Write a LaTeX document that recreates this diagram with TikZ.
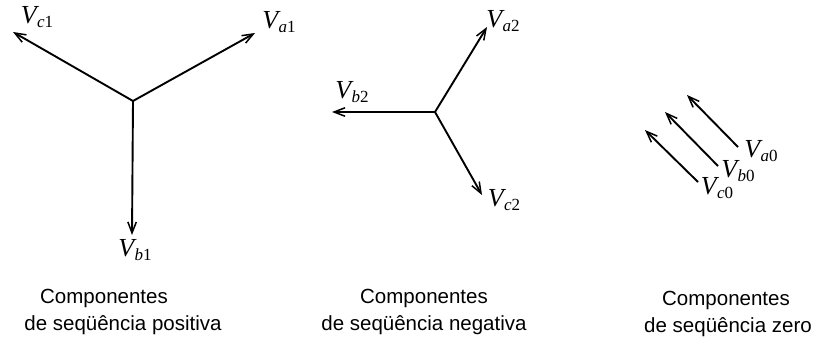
\documentclass[tikz,border=0pt]{standalone}
\usepackage{fontspec}
\setsansfont{Liberation Sans}
\newfontfamily\lblfont{Liberation Serif}
\usetikzlibrary{arrows.meta}
\newcommand{\phv}[2]{{\lblfont\itshape V\kern0.5pt\raisebox{-4.5pt}{\fontsize{17}{17}\selectfont #1\upshape #2}}}
\tikzset{
  phasor/.style={line width=1.9pt,-{Straight Barb[length=11pt,width=8.5pt,line width=1.5pt]}},
  vlabel/.style={inner sep=0pt,font=\fontsize{26}{28}\selectfont},
  caption/.style={inner sep=0pt,font=\sffamily\fontsize{20.5}{24}\selectfont}
}
\begin{document}
\begin{tikzpicture}[x=1pt,y=-1pt]
\useasboundingbox (0,0) rectangle (832,346);
% positive sequence
\coordinate (O1) at (133,101);
\coordinate (a1) at (255,33);
\coordinate (b1) at (132,235);
\coordinate (c1) at (13,32);
\draw[phasor] (O1) -- (a1);
\draw[phasor] (O1) -- (b1);
\draw[phasor] (O1) -- (c1);
\node[vlabel] (la1) at (279,22) {\phv{a}{1}};
\node[vlabel] (lb1) at (135,250) {\phv{b}{1}};
\node[vlabel] (lc1) at (37,17) {\phv{c}{1}};
% negative sequence
\coordinate (O2) at (435,112);
\coordinate (a2) at (487,27);
\coordinate (b2) at (332,112);
\coordinate (c2) at (482,195);
\draw[phasor] (O2) -- (a2);
\draw[phasor] (O2) -- (b2);
\draw[phasor] (O2) -- (c2);
\node[vlabel] (la2) at (503,21) {\phv{a}{2}};
\node[vlabel] (lb2) at (352,92) {\phv{b}{2}};
\node[vlabel] (lc2) at (504,200) {\phv{c}{2}};
% zero sequence
\coordinate (ta0) at (738,147);
\coordinate (ha0) at (687,95);
\coordinate (tb0) at (718,166);
\coordinate (hb0) at (665,112);
\coordinate (tc0) at (698,182);
\coordinate (hc0) at (645,130);
\draw[phasor] (ta0) -- (ha0);
\draw[phasor] (tb0) -- (hb0);
\draw[phasor] (tc0) -- (hc0);
\node[vlabel] (la0) at (761,151) {\phv{a}{0}};
\node[vlabel] (lb0) at (738,171) {\phv{b}{0}};
\node[vlabel] (lc0) at (717,188) {\phv{c}{0}};
% captions
\node[caption] (p1) at (104,298) {Componentes};
\node[caption] (p2) at (123,325) {de seqüência positiva};
\node[caption] (n1) at (424,298) {Componentes};
\node[caption] (n2) at (424,325) {de seqüência negativa};
\node[caption] (z1) at (726,300) {Componentes};
\node[caption] (z2) at (728,327) {de seqüência zero};
\end{tikzpicture}
\end{document}
